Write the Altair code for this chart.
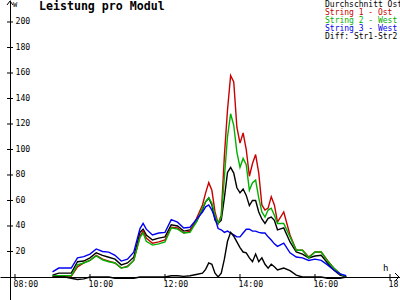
import altair as alt
import pandas as pd

# ---- data ----
times = ["09:00", "09:10", "09:20", "09:30", "09:40", "09:50", "10:00", "10:10", "10:20", "10:30",
         "10:40", "10:50", "11:00", "11:10", "11:20", "11:25", "11:30", "11:40", "11:50", "12:00",
         "12:10", "12:20", "12:30", "12:40", "12:50", "13:00", "13:05", "13:10", "13:15", "13:20",
         "13:25", "13:30", "13:35", "13:40", "13:45", "13:50", "13:55", "14:00", "14:05", "14:10",
         "14:15", "14:20", "14:25", "14:30", "14:35", "14:40", "14:45", "14:50", "14:55", "15:00",
         "15:10", "15:20", "15:30", "15:40", "15:50", "16:00", "16:10", "16:20", "16:30", "16:40",
         "16:50"]

durchschnitt = [1.5, 3, 3, 3, 12, 12.5, 15, 19, 17, 15.5,
                14, 9.5, 11, 15.5, 35, 37.5, 33, 29, 30.5, 31.5,
                41, 40, 36, 37, 43, 53, 59, 62, 56.5, 44.5,
                42, 44.5, 62, 82, 86, 81.5, 70, 66, 69, 64,
                56, 60, 60, 51, 45.5, 42, 46, 47, 44.5, 37,
                38.5, 27.5, 19.6, 18, 15, 16.5, 17, 11, 5.5, 1.5,
                0]

string1 = [0.5, 0.5, 0.5, 0.5, 8, 11, 13, 17, 14, 12.5,
           11, 7, 8.5, 13, 32, 36, 30.5, 26.5, 27.5, 29,
           39, 38.5, 34.5, 36, 45.5, 56.5, 66, 74, 68, 51,
           42, 48.5, 95, 131, 158, 153, 117.5, 105, 113, 100,
           79, 89, 96, 81.5, 56.5, 52.5, 54, 63, 56.5, 43,
           51, 33, 21, 21, 15.7, 19.6, 19.6, 13, 7, 2.5,
           0]

string2 = [1, 1, 1, 1, 9.5, 11, 13, 16.5, 13.5, 12,
           11, 7, 8, 13, 31, 34.5, 28, 25, 26, 27.5,
           38.5, 37.5, 34.5, 35, 43, 54, 59, 62, 58, 48.5,
           42, 47, 78, 110, 128, 119, 98, 86, 93, 88,
           68, 74, 76, 62, 51, 47, 52.5, 54, 48.5, 42,
           42, 31.5, 21, 21, 15, 19.6, 19.6, 12.5, 7, 2.5,
           0]

string3 = [4, 7, 7, 7, 15, 16, 18, 22, 20, 19.5,
           17, 12.5, 14, 19.5, 38, 42, 37.5, 33, 34.5, 35,
           45, 43, 38.5, 39, 45, 51, 55, 56.5, 52.5, 46,
           38, 37, 35, 36, 34.5, 33, 31.5, 31.5, 34.5, 37.5,
           37.5, 36, 36, 35, 34.5, 34.5, 31.5, 29, 26, 24,
           26.5, 19, 15.7, 15, 13, 14, 13, 9.5, 5.5, 2.5,
           1]

diff12 = [0, 0, 0, -1, -2, -1.5, 0, 0, 0, 0,
          -1, -1, -1, -1, 0, 0, 0, 0, 0, 0,
          1, 1, 0.5, 1, 2, 3, 6, 11, 10, 3,
          0, 3, 14, 28, 35, 32, 27.5, 23, 19.6, 19,
          15, 12, 18, 12, 15, 10, 7, 10, 8, 5.5,
          7, 5, 1.5, 0, 0, 0, 0, -1, -1, -1,
          0]

series_names = ["Durchschnitt Ost", "String 1 - Ost", "String 2 - West",
                "String 3 - West", "Diff: Str1-Str2"]
series_colors = ["#000000", "#c80000", "#00b000", "#0000f0", "#000000"]

x_tick_hours = [8, 10, 12, 14, 16, 18]
y_tick_values = [20, 40, 60, 80, 100, 120, 140, 160, 180, 200]

title_text = "Leistung pro Modul"
y_unit = "W"
x_unit = "h"

FONT = "DejaVu Sans Mono"


def to_hours(t):
    h, m = t.split(":")
    return int(h) + int(m) / 60.0


rows = []
for name, vals in zip(series_names, [durchschnitt, string1, string2, string3, diff12]):
    for t, v in zip(times, vals):
        rows.append({"t": to_hours(t), "v": v, "s": name})
df = pd.DataFrame(rows)

xs = alt.Scale(domain=[7.6, 18.2667], nice=False, zero=False)
ys = alt.Scale(domain=[-18.04, 217.25], nice=False, zero=False)

x_axis = alt.Axis(orient="bottom", offset=-23, values=x_tick_hours,
                  labelExpr="(datum.value < 10 ? '0' : '') + datum.value + ':00'",
                  ticks=False, grid=False, title=None, labelAlign="left", labelOffset=-2,
                  labelPadding=3, labelFont=FONT, labelFontSize=8.2, labelColor="black",
                  domainColor="black", domainWidth=1, labelFlush=False, labelOverlap=False)
y_axis = alt.Axis(orient="right", offset=-390, values=y_tick_values,
                  ticks=False, grid=False, title=None, labelAlign="left", labelBaseline="middle",
                  labelPadding=5, labelFont=FONT, labelFontSize=8.2, labelColor="black",
                  domainColor="black", domainWidth=1, labelFlush=False, labelOverlap=False)

lines = alt.Chart(df).mark_line(strokeWidth=1.4, interpolate="linear").encode(
    x=alt.X("t:Q", scale=xs, axis=x_axis),
    y=alt.Y("v:Q", scale=ys, axis=y_axis),
    color=alt.Color("s:N", scale=alt.Scale(domain=series_names, range=series_colors), legend=None),
)

ytick_df = pd.DataFrame({"v": y_tick_values})
yticks = alt.Chart(ytick_df).mark_rule(color="black", strokeWidth=1).encode(
    y=alt.Y("v:Q", scale=ys, axis=y_axis), x=alt.value(7), x2=alt.value(13))

xtick_df = pd.DataFrame({"t": x_tick_hours})
xticks = alt.Chart(xtick_df).mark_rule(color="black", strokeWidth=1).encode(
    x=alt.X("t:Q", scale=xs, axis=x_axis), y=alt.value(274), y2=alt.value(280))

arrows = [
    alt.Chart(pd.DataFrame({"a": [0]})).mark_rule(color="black", strokeWidth=1).encode(
        x=alt.value(10), y=alt.value(1), x2=alt.value(7), y2=alt.value(5)),
    alt.Chart(pd.DataFrame({"a": [0]})).mark_rule(color="black", strokeWidth=1).encode(
        x=alt.value(10), y=alt.value(1), x2=alt.value(13), y2=alt.value(5)),
    alt.Chart(pd.DataFrame({"a": [0]})).mark_rule(color="black", strokeWidth=1).encode(
        x=alt.value(399), y=alt.value(277), x2=alt.value(395), y2=alt.value(273)),
    alt.Chart(pd.DataFrame({"a": [0]})).mark_rule(color="black", strokeWidth=1).encode(
        x=alt.value(399), y=alt.value(277), x2=alt.value(395), y2=alt.value(281)),
]

title = alt.Chart(pd.DataFrame({"txt": [title_text]})).mark_text(
    font=FONT, fontSize=11.6, fontWeight="bold", align="left", baseline="middle", color="black"
).encode(text="txt:N", x=alt.value(39), y=alt.value(7))

wlabel = alt.Chart(pd.DataFrame({"txt": [y_unit]})).mark_text(
    font=FONT, fontSize=7, align="left", baseline="middle", color="black"
).encode(text="txt:N", x=alt.value(13), y=alt.value(5))

hlabel = alt.Chart(pd.DataFrame({"txt": [x_unit]})).mark_text(
    font=FONT, fontSize=9, align="left", baseline="middle", color="black"
).encode(text="txt:N", x=alt.value(383), y=alt.value(268))

leg_df = pd.DataFrame({"name": series_names, "row": list(range(len(series_names)))})
leg_df["ypix"] = 4.5 + 8 * leg_df["row"]
legend = alt.Chart(leg_df).mark_text(
    font=FONT, fontSize=8, align="left", baseline="middle"
).encode(
    text="name:N", x=alt.value(325),
    y=alt.Y("ypix:Q", scale=None),
    color=alt.Color("name:N", scale=alt.Scale(domain=series_names, range=series_colors), legend=None),
)

chart = alt.layer(
    lines, yticks, xticks, *arrows, title, wlabel, hlabel, legend
).resolve_scale(color="independent").properties(
    width=400, height=300, padding=0, autosize=alt.AutoSizeParams(type="none"),
    background="white"
).configure_view(stroke=None)

chart.save("out.html", embed_options={"renderer": "svg", "actions": False})
